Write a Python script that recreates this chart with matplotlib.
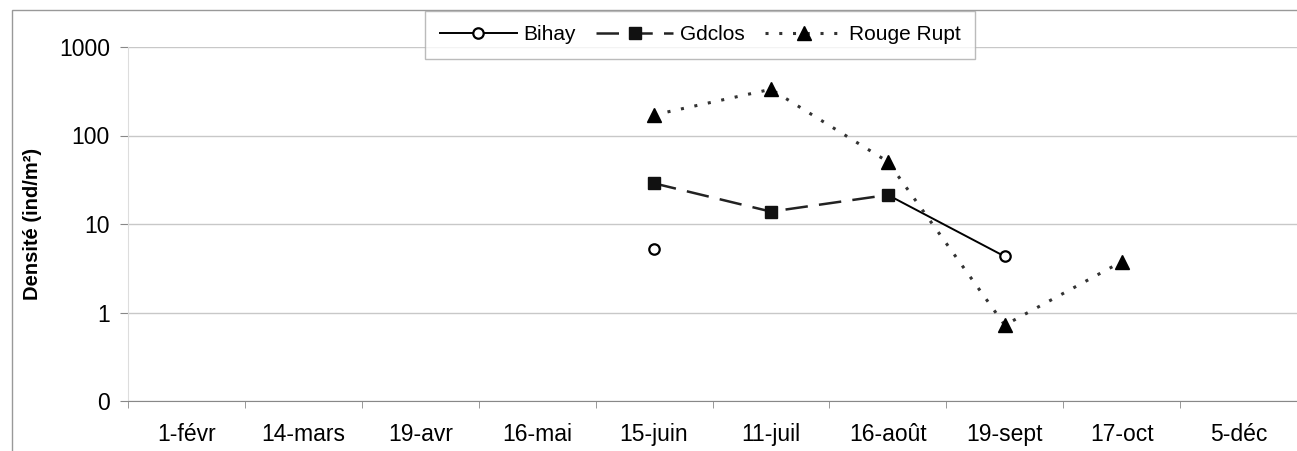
import numpy as np
import matplotlib
matplotlib.use("Agg")
import matplotlib.pyplot as plt
from matplotlib.patches import Rectangle

plt.rcParams['font.family'] = ['Liberation Sans', 'DejaVu Sans']

dates = ['1-févr', '14-mars', '19-avr', '16-mai', '15-juin', '11-juil',
         '16-août', '19-sept', '17-oct', '5-déc']
nan = np.nan
bihay = [nan, nan, nan, nan, 5.2, nan, 21.3, 4.3, nan, nan]
gdclos = [nan, nan, nan, nan, 28.8, 13.8, 21.3, nan, nan, nan]
rouge_rupt = [nan, nan, nan, nan, 171, 333, 50.6, 0.72, 3.75, nan]

ytick_vals = [0.1, 1, 10, 100, 1000]
ytick_labels = ['0', '1', '10', '100', '1000']

fig = plt.figure(figsize=(12.97, 4.51), dpi=100)
ax = fig.add_axes([128/1297, 1-401/451, 1-128/1297, (401-47)/451])

x = np.arange(len(dates))
ax.plot(x, bihay, color='black', lw=1.4, ls='-', marker='o', ms=7.5,
        mfc='white', mec='black', mew=1.6, label='Bihay')
ax.plot(x, gdclos, color='#222222', lw=1.8, ls=(0, (9, 4.5)), marker='s', ms=8.5,
        mfc='#111111', mec='#111111', label='Gdclos')
ax.plot(x, rouge_rupt, color='#333333', lw=2.2, ls=(0, (1, 3.5)), marker='^', ms=10,
        mfc='black', mec='black', label='Rouge Rupt')

ax.set_yscale('log')
ax.set_ylim(0.1, 1000)
ax.set_yticks(ytick_vals)
ax.set_yticklabels(ytick_labels)
ax.yaxis.set_minor_locator(matplotlib.ticker.NullLocator())
ax.set_xlim(-0.5, len(dates) - 0.5)
ax.set_xticks(x)
ax.set_xticklabels(dates)
ax.set_xticks(np.arange(len(dates) + 1) - 0.5, minor=True)
ax.tick_params(axis='x', which='major', length=0, pad=16, labelsize=16.5)
ax.tick_params(axis='x', which='minor', length=5, color='#888888')
ax.tick_params(axis='y', length=6, color='#888888', labelsize=16.5, pad=7)

ax.grid(axis='y', which='major', color='#c8c8c8', lw=1)
ax.set_axisbelow(True)
for s in ['top', 'right']:
    ax.spines[s].set_visible(False)
ax.spines['left'].set_color('#dddddd')
ax.spines['bottom'].set_color('#888888')

ax.set_ylabel('Densité (ind/m²)', fontsize=14.5, fontweight='bold')
ax.yaxis.set_label_coords((42 - 128) / 1169, 0.5)

leg = fig.legend(loc='center', bbox_to_anchor=(700/1297, 1-35/451), ncol=3,
                 fontsize=15, frameon=True, fancybox=False, handlelength=3.7,
                 handletextpad=0.3, columnspacing=1.0, borderpad=0.7,
                 borderaxespad=0)
leg.get_frame().set_edgecolor('#aaaaaa')
leg.get_frame().set_linewidth(1)

fig.patches.append(Rectangle((12/1297, -0.01), 1.0, 1-10/451 + 0.01,
                             transform=fig.transFigure, fill=False,
                             edgecolor='#999999', lw=1))

fig.savefig('out.png', dpi=100)
